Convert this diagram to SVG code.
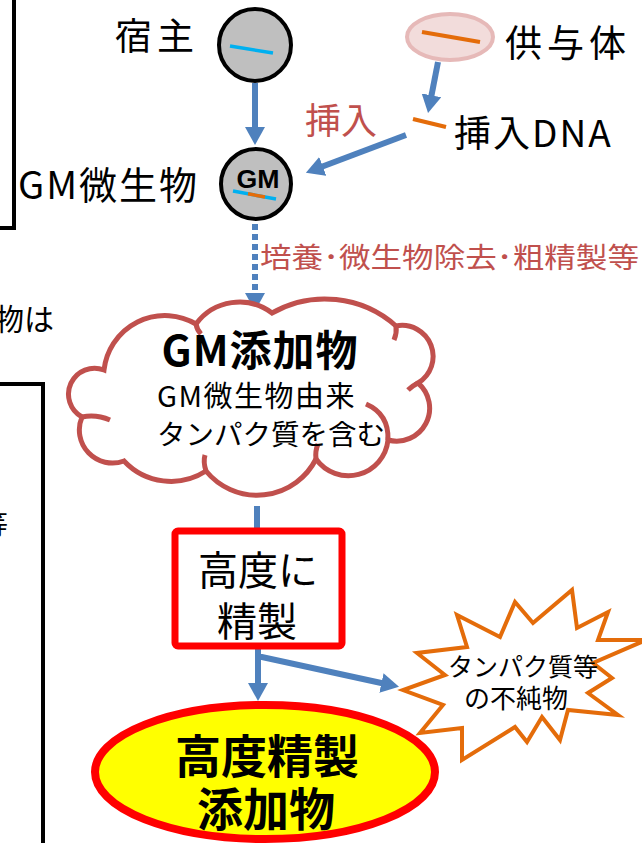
<svg xmlns="http://www.w3.org/2000/svg" width="642" height="843" viewBox="0 0 642 843">
<defs>
<style>
.t{font-family:"Noto Sans CJK JP","Noto Sans",sans-serif;fill:#000}
.big{font-size:37px}
.red{fill:#C0504D}
.b{font-weight:bold}
.conn{fill:none;stroke:#4F81BD;stroke-width:6}
.frame{fill:none;stroke:#000;stroke-width:4}
</style>
<marker id="ah" viewBox="0 0 18 20" markerWidth="18" markerHeight="20" refX="1" refY="10" orient="auto" markerUnits="userSpaceOnUse">
<path d="M0,0 L18,10 L0,20 Z" fill="#4F81BD"/>
</marker>
</defs>
<rect width="642" height="843" fill="#fff"/>

<g id="left-frames">
<rect class="frame" x="-10" y="-10" width="24" height="238"/>
<rect class="frame" x="-10" y="384" width="53" height="500"/>
<text class="t" x="-6" y="330" font-size="30">物は</text>
<text class="t" x="-20" y="535" font-size="28">等</text>
</g>

<g id="connectors">
<line class="conn" x1="255" y1="83" x2="255" y2="128" marker-end="url(#ah)"/>
<line class="conn" x1="438" y1="62" x2="431.3" y2="96.3" stroke-width="5" marker-end="url(#ah)"/>
<line class="conn" x1="406" y1="135" x2="321.8" y2="166.7" marker-end="url(#ah)"/>
<line class="conn" x1="255" y1="224" x2="255" y2="294" stroke-width="5" stroke-dasharray="6 4" marker-end="url(#ah)"/>
<line class="conn" x1="257" y1="506" x2="257" y2="530"/>
<line class="conn" x1="258" y1="648" x2="258" y2="684" marker-end="url(#ah)"/>
<polyline class="conn" points="258,657 262,657 382.4,683.2" marker-end="url(#ah)"/>
<text class="t red" x="305" y="134" font-size="36">挿入</text>
<text class="t red" x="260" y="268" font-size="28" textLength="379" lengthAdjust="spacingAndGlyphs">培養･微生物除去･粗精製等</text>
</g>

<g id="host">
<circle cx="255" cy="45" r="36" fill="#BFBFBF" stroke="#000" stroke-width="4"/>
<line x1="230" y1="46" x2="273" y2="53" stroke="#00B0F0" stroke-width="3.5"/>
<text class="t big" x="115" y="50" letter-spacing="5">宿主</text>
</g>

<g id="donor">
<ellipse cx="450" cy="37" rx="43" ry="23" fill="#F2DCDB" stroke="#E6B9B8" stroke-width="4"/>
<line x1="422" y1="32" x2="480" y2="42" stroke="#E46C0A" stroke-width="4"/>
<text class="t big" x="505" y="57" letter-spacing="5">供与体</text>
</g>

<g id="insert-dna">
<line x1="413" y1="119" x2="446" y2="127" stroke="#E46C0A" stroke-width="4"/>
<text class="t big" x="454" y="147" letter-spacing="2">挿入DNA</text>
</g>

<g id="gm-microbe">
<circle cx="256" cy="184" r="35" fill="#BFBFBF" stroke="#000" stroke-width="4"/>
<text x="258" y="188" text-anchor="middle" font-family="Liberation Sans, Arial, sans-serif" font-weight="bold" font-size="26" textLength="43" lengthAdjust="spacingAndGlyphs">GM</text>
<line x1="233" y1="191" x2="276" y2="199" stroke="#00B0F0" stroke-width="3.5"/>
<line x1="248" y1="193.8" x2="265" y2="197" stroke="#E46C0A" stroke-width="3.5"/>
<text class="t" x="18" y="199" font-size="38" letter-spacing="2">GM微生物</text>
</g>

<g id="gm-additive">
<path d="M82,417 A26,26 0 0 1 104,370 A61.3,61.3 0 0 1 196,324 A54,54 0 0 1 272,313 A107,107 0 0 1 396,326 A31,31 0 0 1 418,383 A33,33 0 0 1 388,440 A39.8,39.8 0 0 1 316,459 A66,66 0 0 1 206,471 A64.4,64.4 0 0 1 124,461 A33.1,33.1 0 0 1 82,417 Z" fill="#fff" stroke="#C0504D" stroke-width="5"/>
<g fill="none" stroke="#C0504D" stroke-width="5">
<path d="M82,417 Q96,414 110,420"/>
<path d="M196,324 Q197,330 201,334"/>
<path d="M396,326 Q397,333 394,340"/>
<path d="M418,383 Q412,386 408,390"/>
<path d="M388,440 Q389,414 366,404"/>
<path d="M316,459 Q315,451 318,444"/>
<path d="M206,471 Q203,462 205,455"/>
</g>
<text class="t b" x="260" y="366" font-size="42" text-anchor="middle" letter-spacing="1">GM添加物</text>
<text class="t" x="157" y="407" font-size="29" letter-spacing="1.5">GM微生物由来</text>
<text class="t" x="157" y="445" font-size="28.5">タンパク質を含む</text>
</g>

<g id="purify">
<rect x="175" y="531" width="167" height="115" rx="3" fill="#fff" stroke="#FF0000" stroke-width="7"/>
<text class="t" x="258" y="585" font-size="40" text-anchor="middle">高度に</text>
<text class="t" x="257" y="636" font-size="40" text-anchor="middle">精製</text>
</g>

<g id="impurities">
<polygon points="457,615 500,637 515,602 533,623 572,590 577,628 608,612 598,640 646,640 593,663 612,678 588,693 618,715 568,710 560,740 542,717 527,742 515,727 462,760 462,728 420,733 443,705 403,690 445,675 417,653 467,647" fill="#fff" stroke="#E46C0A" stroke-width="4" stroke-linejoin="miter"/>
<text class="t" x="523" y="676" font-size="25" text-anchor="middle">タンパク質等</text>
<text class="t" x="516" y="708" font-size="26" text-anchor="middle">の不純物</text>
</g>

<g id="final-product">
<ellipse cx="265" cy="772" rx="170" ry="67" fill="#FFFF00" stroke="#FF0000" stroke-width="8"/>
<text class="t b" x="267" y="773" font-size="46" text-anchor="middle">高度精製</text>
<text class="t b" x="266" y="826" font-size="46" text-anchor="middle">添加物</text>
</g>
</svg>
